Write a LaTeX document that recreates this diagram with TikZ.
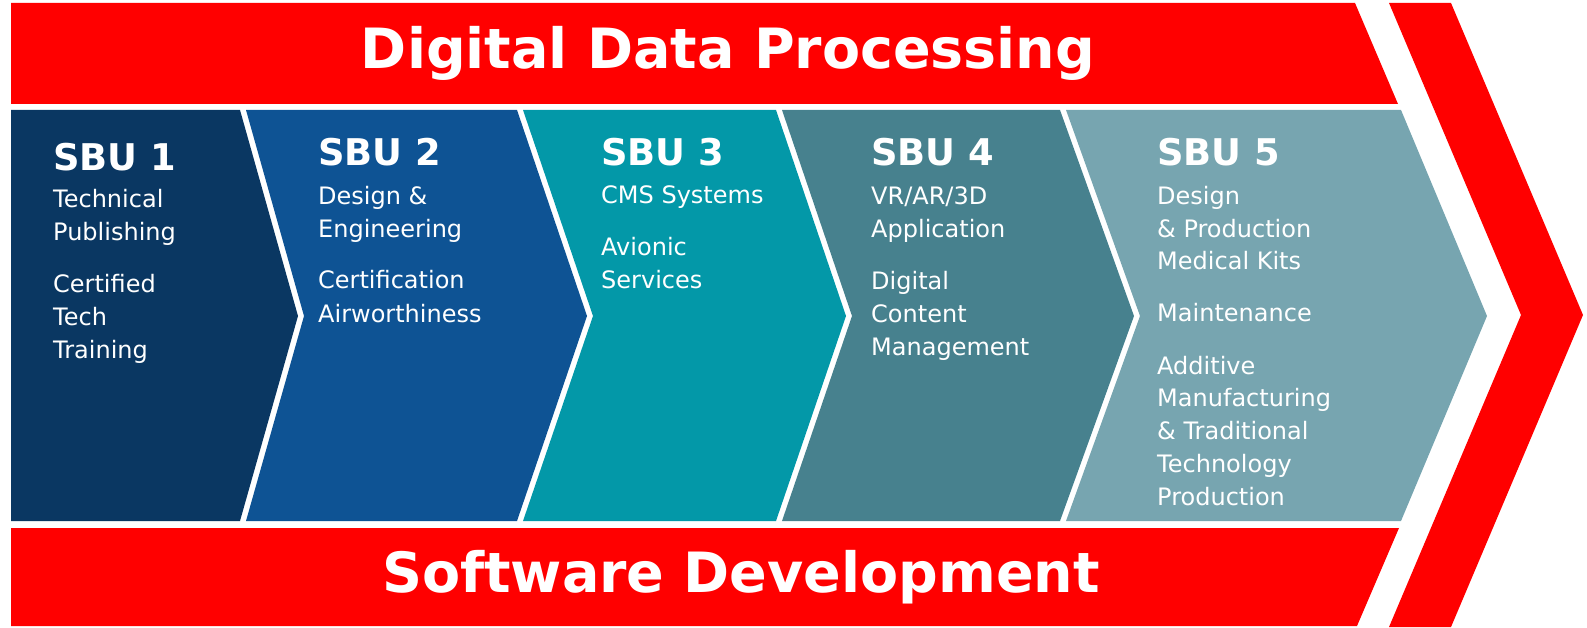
\documentclass[tikz,border=0pt]{standalone}
\usepackage{fontspec}
\setmainfont{DejaVu Sans}
\definecolor{brandred}{RGB}{255,0,0}
\definecolor{sbuA}{RGB}{10,55,98}
\definecolor{sbuB}{RGB}{14,83,148}
\definecolor{sbuC}{RGB}{3,152,168}
\definecolor{sbuD}{RGB}{71,129,142}
\definecolor{sbuE}{RGB}{119,165,176}
\tikzset{
  bandtitle/.style={text=white,font=\bfseries\fontsize{55.5}{60}\selectfont,inner sep=0pt,anchor=base},
  sbutitle/.style={text=white,font=\bfseries\fontsize{36.8}{40}\selectfont,anchor=base west,inner sep=0pt},
  sbuline/.style={text=white,font=\fontsize{24}{28}\selectfont,anchor=base west,inner sep=0pt},
}
\begin{document}
\begin{tikzpicture}[x=1pt,y=-1pt]
\useasboundingbox (0,0) rectangle (1587,628);
% red bands
\fill[brandred] (11,3) -- (1355,3) -- (1398,104) -- (11,104) -- cycle;
\fill[brandred] (11,528) -- (1399,528) -- (1357,626) -- (11,626) -- cycle;
\fill[brandred] (1389,3) -- (1451,3) -- (1583,315) -- (1451,627) -- (1389,627) -- (1521,315) -- cycle;
% chevrons
\fill[sbuA] (11,110) -- (240,110) -- (298,316) -- (240,521) -- (11,521) -- cycle;
\fill[sbuB] (246,110) -- (517,110) -- (587,316) -- (517,521) -- (246,521) -- (304,316) -- cycle;
\fill[sbuC] (523,110) -- (776,110) -- (846,316) -- (776,521) -- (523,521) -- (593,316) -- cycle;
\fill[sbuD] (782,110) -- (1060,110) -- (1134,316) -- (1060,521) -- (782,521) -- (852,316) -- cycle;
\fill[sbuE] (1066,110) -- (1401,110) -- (1487,316) -- (1401,521) -- (1066,521) -- (1140,316) -- cycle;
% band titles
\node[bandtitle] (ddp) at (728,69) {Digital Data Processing};
\node[bandtitle] (swd) at (741,592) {Software Development};
% SBU 1
\node[sbutitle] (s1) at (53,171) {SBU 1};
\node[sbuline] (s1a) at (53,208) {Technical};
\node[sbuline] (s1b) at (53,241) {Publishing};
\node[sbuline] (s1c) at (53,292) {Certified};
\node[sbuline] (s1d) at (53,325) {Tech};
\node[sbuline] (s1e) at (53,358) {Training};
% SBU 2
\node[sbutitle] (s2) at (318,166) {SBU 2};
\node[sbuline] (s2a) at (318,205) {Design \&};
\node[sbuline] (s2b) at (318,238) {Engineering};
\node[sbuline] (s2c) at (318,289) {Certification};
\node[sbuline] (s2d) at (318,322) {Airworthiness};
% SBU 3
\node[sbutitle] (s3) at (601,166) {SBU 3};
\node[sbuline] (s3a) at (601,204) {CMS Systems};
\node[sbuline] (s3b) at (601,256) {Avionic};
\node[sbuline] (s3c) at (601,289) {Services};
% SBU 4
\node[sbutitle] (s4) at (871,166) {SBU 4};
\node[sbuline] (s4a) at (871,205) {VR/AR/3D};
\node[sbuline] (s4b) at (871,238) {Application};
\node[sbuline] (s4c) at (871,290) {Digital};
\node[sbuline] (s4d) at (871,322) {Content};
\node[sbuline] (s4e) at (871,355) {Management};
% SBU 5
\node[sbutitle] (s5) at (1157,166) {SBU 5};
\node[sbuline] (s5a) at (1157,205) {Design};
\node[sbuline] (s5b) at (1157,238) {\& Production};
\node[sbuline] (s5c) at (1157,270) {Medical Kits};
\node[sbuline] (s5d) at (1157,321) {Maintenance};
\node[sbuline] (s5e) at (1157,374) {Additive};
\node[sbuline] (s5f) at (1157,406) {Manufacturing};
\node[sbuline] (s5g) at (1157,439) {\& Traditional};
\node[sbuline] (s5h) at (1157,472) {Technology};
\node[sbuline] (s5i) at (1157,505) {Production};
\end{tikzpicture}
\end{document}
